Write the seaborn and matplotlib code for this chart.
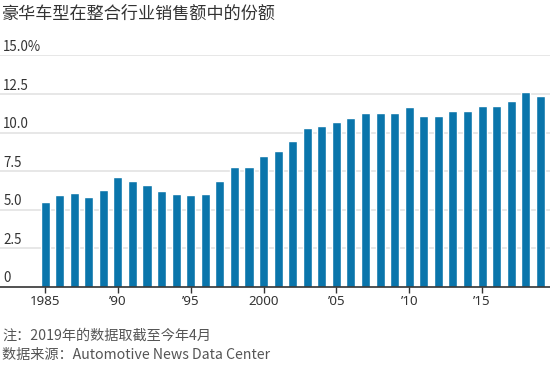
import pandas as pd
import seaborn as sns
import matplotlib.pyplot as plt
import matplotlib.transforms as mtransforms

years = list(range(1985, 2020))
share = [5.5, 5.95, 6.1, 5.8, 6.3, 7.15, 6.85, 6.6, 6.25, 6.05, 5.95, 6.05,
         6.85, 7.75, 7.8, 8.5, 8.8, 9.45, 10.3, 10.45, 10.7, 10.95, 11.25,
         11.25, 11.25, 11.65, 11.05, 11.05, 11.4, 11.4, 11.7, 11.7, 12.05,
         12.65, 12.35]
ytick_vals = [0, 2.5, 5.0, 7.5, 10.0, 12.5, 15.0]
ytick_labels = ["0", "2.5", "5.0", "7.5", "10.0", "12.5", "15.0%"]
xtick_years = [1985, 1990, 1995, 2000, 2005, 2010, 2015]
xtick_labels = ["1985", "\u201990", "\u201995", "2000", "\u201905", "\u201910", "\u201915"]

df = pd.DataFrame({"year": years, "share": share})

sns.set_theme(style="white")
plt.rcParams["font.family"] = ["Noto Sans CJK SC", "DejaVu Sans"]
latin = ["Noto Sans", "DejaVu Sans"]

fig = plt.figure(figsize=(5.5, 3.65), dpi=100)
ax = fig.add_axes([0, 0.2137, 1, 0.848 - 0.2137])

sns.barplot(data=df, x="year", y="share", color="#0a75ab", width=0.62,
            saturation=1, ax=ax, zorder=3)

ax.set_xlim(-3.09, 34.66)
ax.set_ylim(0, 15)
ax.set_xlabel("")
ax.set_ylabel("")

# y grid and labels sitting on top of the grid lines
ax.set_yticks(ytick_vals)
ax.set_yticklabels([])
ax.tick_params(axis="y", length=0)
for v in ytick_vals[1:]:
    ax.axhline(v, color="#e3e3e3", lw=1.2, zorder=1)
trans = mtransforms.blended_transform_factory(ax.transAxes, ax.transData)
for v, lab in zip(ytick_vals, ytick_labels):
    ax.text(0.006, v + 0.1, lab, transform=trans, ha="left", va="bottom",
            fontsize=9.6, color="#333333")

pos = [years.index(y) for y in xtick_years]
ax.set_xticks(pos)
ax.set_xticklabels(xtick_labels, fontsize=9.6, color="#333333", family=latin)
ax.tick_params(axis="x", length=4, width=1, color="#333333", pad=2, bottom=True)

for s in ["top", "right", "left"]:
    ax.spines[s].set_visible(False)
ax.spines["bottom"].set_color("#333333")
ax.spines["bottom"].set_linewidth(1.2)
ax.spines["bottom"].set_zorder(4)

fig.text(0.004, 0.962, "豪华车型在整合行业销售额中的份额", fontsize=12.3,
         color="#333333", ha="left", va="center")
fig.text(0.004, 0.08, "注：2019年的数据取截至今年4月", fontsize=10.2,
         color="#555555", ha="left", va="center")
fig.text(0.004, 0.027, "数据来源：Automotive News Data Center", fontsize=10.2,
         color="#555555", ha="left", va="center")

plt.savefig("out.png", dpi=100)
